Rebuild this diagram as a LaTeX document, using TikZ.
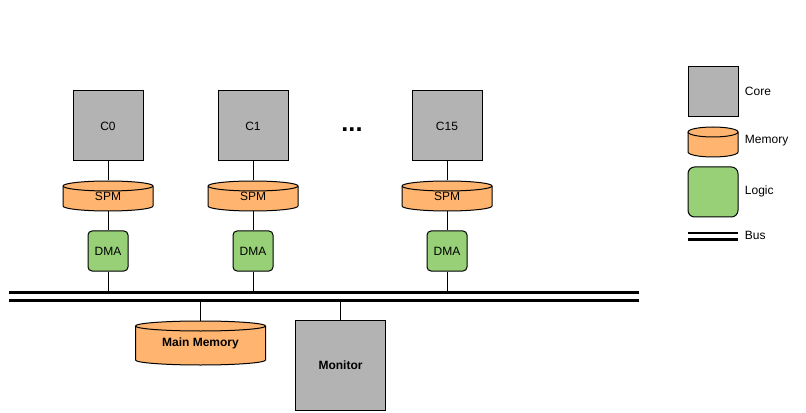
\documentclass[tikz,border=0pt]{standalone}
\usepackage{fontspec}
\setmainfont{Liberation Sans}

\definecolor{coregray}{RGB}{179,179,179}
\definecolor{memorange}{RGB}{255,181,112}
\definecolor{logicgreen}{RGB}{151,208,119}

\tikzset{every picture/.style={line width=0.75pt}}
\tikzset{
  corebox/.style={draw, fill=coregray, minimum width=52.5pt, minimum height=52.5pt, inner sep=0pt, font=\fontsize{9}{11}\selectfont},
  memtext/.style={inner sep=0pt, font=\fontsize{9}{11}\selectfont},
  memfill/.style={draw, fill=memorange},
  logicbox/.style={draw, fill=logicgreen, rounded corners=3pt, minimum width=30pt, minimum height=30pt, inner sep=0pt, font=\fontsize{9}{11}\selectfont},
  legendtext/.style={anchor=west, font=\fontsize{9}{11}\selectfont},
  busline/.style={line width=2.25pt},
  wire/.style={line width=0.6pt}
}

% memory cylinder: name, x, y, width, height (px), text
\newcommand{\memcyl}[6]{%
  \draw [memfill] ({#2-#4/2},{#3-#5/2+5}) -- ({#2-#4/2},{#3+#5/2-5})
    arc [start angle=180, end angle=0, x radius={#4/2}, y radius=5]
    -- ({#2+#4/2},{#3-#5/2+5})
    arc [start angle=0, end angle=-180, x radius={#4/2}, y radius=5] -- cycle;
  \draw ({#2-#4/2},{#3-#5/2+5}) arc [start angle=180, end angle=0, x radius={#4/2}, y radius=5];
  \node [memtext, minimum width={#4*0.75pt}, minimum height={#5*0.75pt}] (#1) at (#2,#3) {#6};
}

\begin{document}
\begin{tikzpicture}[x=0.75pt,y=0.75pt,yscale=-1,xscale=1]
\useasboundingbox (0,0) rectangle (806,413);

%Bus
\coordinate (busA) at (9,292);
\coordinate (busB) at (639,292);
\coordinate (busC) at (9,300);
\coordinate (busD) at (639,300);
\draw [busline] (busA) -- (busB);
\draw [busline] (busC) -- (busD);

%Shape: Cores
\node [corebox] (c0) at (108,126) {C0};
\node [corebox] (c1) at (253,126) {C1};
\node [corebox] (c15) at (447,126) {C15};

%Shape: Scratchpads
\memcyl{spm0}{108}{196}{90}{30}{SPM}
\memcyl{spm1}{253}{196}{90}{30}{SPM}
\memcyl{spm15}{447}{196}{90}{30}{SPM}

%Shape: DMA engines
\node [logicbox] (dma0) at (108,251) {DMA};
\node [logicbox] (dma1) at (253,251) {DMA};
\node [logicbox] (dma15) at (447,251) {DMA};

%Straight Lines
\foreach \i in {0,1,15}{
  \draw [wire] (c\i) -- (spm\i);
  \draw [wire] (spm\i) -- (dma\i);
  \draw [wire] (dma\i.south) -- (dma\i.south |- busA);
}

% Text Node
\node [font=\fontsize{19}{19}\selectfont\bfseries] (dots) at (352,130) {...};

%Shape: Main memory and monitor
\memcyl{mainmem}{200.5}{343}{130}{44}{\bfseries Main Memory}
\node [corebox, minimum width=67.5pt, minimum height=67.5pt, font=\fontsize{9}{11}\selectfont\bfseries] (monitor) at (340.5,365.5) {Monitor};
\draw [wire] (mainmem.north |- busC) -- (mainmem.north);
\draw [wire] (monitor.north |- busC) -- (monitor.north);

%Legend
\node [corebox, minimum width=37.5pt, minimum height=37.5pt] (lcore) at (713,92) {};
\memcyl{lmem}{713}{142}{50}{30}{}
\node [logicbox, minimum width=37.5pt, minimum height=37.5pt, rounded corners=5pt] (llogic) at (713,192) {};
\coordinate (lbusA) at (688,233);
\coordinate (lbusB) at (738,233);
\coordinate (lbusC) at (688,239.5);
\coordinate (lbusD) at (738,239.5);
\draw [busline, line width=1.9pt] (lbusA) -- (lbusB);
\draw [busline, line width=1.9pt] (lbusC) -- (lbusD);

% Text Node
\node [legendtext] (tcore) at (740,91) {Core};
\node [legendtext] (tmem) at (740,141) {Memory};
\node [legendtext] (tlogic) at (740,191) {Logic};
\node [legendtext] (tbus) at (740,235) {Bus};

\end{tikzpicture}
\end{document}
